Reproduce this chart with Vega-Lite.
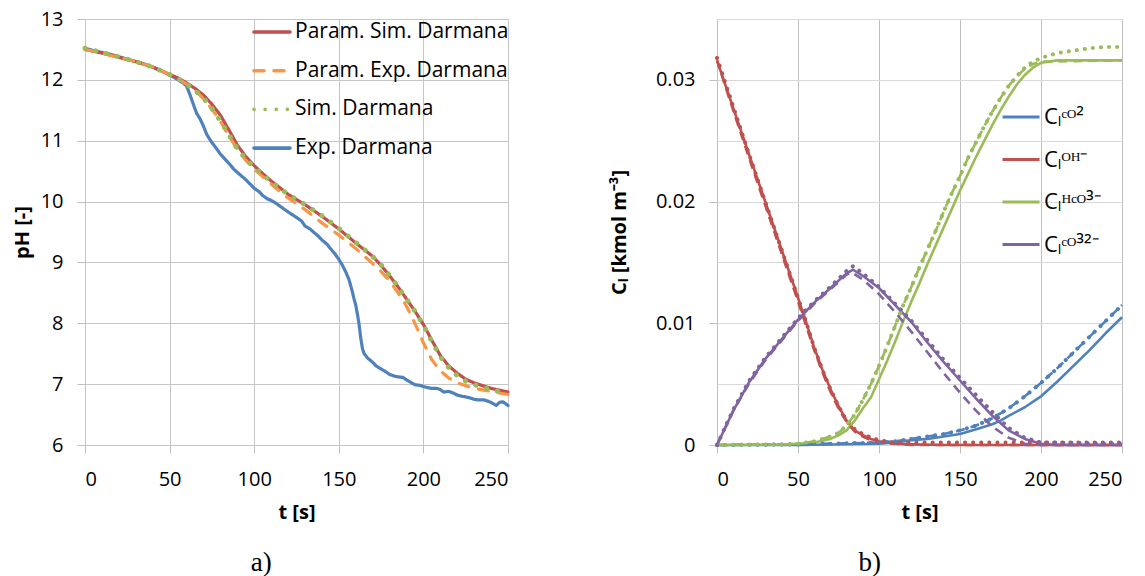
{
"$schema": "https://vega.github.io/schema/vega-lite/v6.json",
"background": "white",
"padding": {"left": 12, "top": 9, "right": 0, "bottom": 0},
"config": {
  "view": {"stroke": null},
  "font": "Open Sans",
  "axis": {"gridColor": "#c6c6c6", "tickColor": "#bfbfbf", "domain": false, "labelFont": "Open Sans", "labelFontSize": 20, "labelColor": "#000", "titleFont": "Open Sans", "titleFontSize": 20, "titleFontWeight": "bold", "titleColor": "#000", "tickSize": 8},
  "axisX": {"labelPadding": 16, "titlePadding": 13, "labelAngle": 0},
  "axisY": {"labelPadding": 14, "titlePadding": 8}
},
"datasets": {
"ph": [
{"t":0,"pH":12.52,"series":"Exp. Darmana"},{"t":5,"pH":12.48,"series":"Exp. Darmana"},{"t":10,"pH":12.45,"series":"Exp. Darmana"},{"t":15,"pH":12.42,"series":"Exp. Darmana"},{"t":20,"pH":12.38,"series":"Exp. Darmana"},{"t":25,"pH":12.34,"series":"Exp. Darmana"},{"t":30,"pH":12.3,"series":"Exp. Darmana"},{"t":35,"pH":12.26,"series":"Exp. Darmana"},{"t":40,"pH":12.21,"series":"Exp. Darmana"},{"t":45,"pH":12.15,"series":"Exp. Darmana"},{"t":50,"pH":12.08,"series":"Exp. Darmana"},{"t":55,"pH":12.0,"series":"Exp. Darmana"},{"t":58,"pH":11.95,"series":"Exp. Darmana"},{"t":60,"pH":11.9,"series":"Exp. Darmana"},{"t":62,"pH":11.76,"series":"Exp. Darmana"},{"t":64,"pH":11.6,"series":"Exp. Darmana"},{"t":66,"pH":11.45,"series":"Exp. Darmana"},{"t":68,"pH":11.36,"series":"Exp. Darmana"},{"t":70,"pH":11.24,"series":"Exp. Darmana"},{"t":72,"pH":11.1,"series":"Exp. Darmana"},{"t":75,"pH":10.97,"series":"Exp. Darmana"},{"t":78,"pH":10.86,"series":"Exp. Darmana"},{"t":80,"pH":10.78,"series":"Exp. Darmana"},{"t":85,"pH":10.63,"series":"Exp. Darmana"},{"t":88,"pH":10.53,"series":"Exp. Darmana"},{"t":90,"pH":10.48,"series":"Exp. Darmana"},{"t":95,"pH":10.36,"series":"Exp. Darmana"},{"t":100,"pH":10.22,"series":"Exp. Darmana"},{"t":103,"pH":10.16,"series":"Exp. Darmana"},{"t":105,"pH":10.1,"series":"Exp. Darmana"},{"t":108,"pH":10.04,"series":"Exp. Darmana"},{"t":110,"pH":10.02,"series":"Exp. Darmana"},{"t":113,"pH":9.97,"series":"Exp. Darmana"},{"t":115,"pH":9.93,"series":"Exp. Darmana"},{"t":120,"pH":9.83,"series":"Exp. Darmana"},{"t":125,"pH":9.74,"series":"Exp. Darmana"},{"t":128,"pH":9.68,"series":"Exp. Darmana"},{"t":130,"pH":9.6,"series":"Exp. Darmana"},{"t":133,"pH":9.55,"series":"Exp. Darmana"},{"t":135,"pH":9.5,"series":"Exp. Darmana"},{"t":138,"pH":9.43,"series":"Exp. Darmana"},{"t":140,"pH":9.37,"series":"Exp. Darmana"},{"t":143,"pH":9.3,"series":"Exp. Darmana"},{"t":145,"pH":9.23,"series":"Exp. Darmana"},{"t":148,"pH":9.13,"series":"Exp. Darmana"},{"t":150,"pH":9.05,"series":"Exp. Darmana"},{"t":152,"pH":8.96,"series":"Exp. Darmana"},{"t":154,"pH":8.85,"series":"Exp. Darmana"},{"t":156,"pH":8.72,"series":"Exp. Darmana"},{"t":158,"pH":8.52,"series":"Exp. Darmana"},{"t":159,"pH":8.4,"series":"Exp. Darmana"},{"t":160,"pH":8.3,"series":"Exp. Darmana"},{"t":161,"pH":8.15,"series":"Exp. Darmana"},{"t":162,"pH":7.98,"series":"Exp. Darmana"},{"t":163,"pH":7.75,"series":"Exp. Darmana"},{"t":164,"pH":7.58,"series":"Exp. Darmana"},{"t":165,"pH":7.5,"series":"Exp. Darmana"},{"t":167,"pH":7.43,"series":"Exp. Darmana"},{"t":170,"pH":7.36,"series":"Exp. Darmana"},{"t":172,"pH":7.3,"series":"Exp. Darmana"},{"t":175,"pH":7.25,"series":"Exp. Darmana"},{"t":178,"pH":7.2,"series":"Exp. Darmana"},{"t":180,"pH":7.16,"series":"Exp. Darmana"},{"t":183,"pH":7.13,"series":"Exp. Darmana"},{"t":185,"pH":7.12,"series":"Exp. Darmana"},{"t":188,"pH":7.11,"series":"Exp. Darmana"},{"t":190,"pH":7.07,"series":"Exp. Darmana"},{"t":193,"pH":7.02,"series":"Exp. Darmana"},{"t":195,"pH":6.99,"series":"Exp. Darmana"},{"t":198,"pH":6.98,"series":"Exp. Darmana"},{"t":200,"pH":6.96,"series":"Exp. Darmana"},{"t":203,"pH":6.94,"series":"Exp. Darmana"},{"t":205,"pH":6.93,"series":"Exp. Darmana"},{"t":208,"pH":6.93,"series":"Exp. Darmana"},{"t":210,"pH":6.91,"series":"Exp. Darmana"},{"t":212,"pH":6.87,"series":"Exp. Darmana"},{"t":215,"pH":6.88,"series":"Exp. Darmana"},{"t":218,"pH":6.85,"series":"Exp. Darmana"},{"t":220,"pH":6.82,"series":"Exp. Darmana"},{"t":223,"pH":6.8,"series":"Exp. Darmana"},{"t":225,"pH":6.79,"series":"Exp. Darmana"},{"t":228,"pH":6.77,"series":"Exp. Darmana"},{"t":230,"pH":6.75,"series":"Exp. Darmana"},{"t":233,"pH":6.74,"series":"Exp. Darmana"},{"t":236,"pH":6.74,"series":"Exp. Darmana"},{"t":240,"pH":6.7,"series":"Exp. Darmana"},{"t":243,"pH":6.65,"series":"Exp. Darmana"},{"t":245,"pH":6.7,"series":"Exp. Darmana"},{"t":247,"pH":6.71,"series":"Exp. Darmana"},{"t":250,"pH":6.65,"series":"Exp. Darmana"},
{"t":0,"pH":12.5,"series":"Param. Sim. Darmana"},{"t":10,"pH":12.44,"series":"Param. Sim. Darmana"},{"t":20,"pH":12.37,"series":"Param. Sim. Darmana"},{"t":30,"pH":12.3,"series":"Param. Sim. Darmana"},{"t":40,"pH":12.21,"series":"Param. Sim. Darmana"},{"t":50,"pH":12.09,"series":"Param. Sim. Darmana"},{"t":55,"pH":12.03,"series":"Param. Sim. Darmana"},{"t":60,"pH":11.95,"series":"Param. Sim. Darmana"},{"t":65,"pH":11.86,"series":"Param. Sim. Darmana"},{"t":70,"pH":11.75,"series":"Param. Sim. Darmana"},{"t":75,"pH":11.6,"series":"Param. Sim. Darmana"},{"t":80,"pH":11.42,"series":"Param. Sim. Darmana"},{"t":85,"pH":11.18,"series":"Param. Sim. Darmana"},{"t":90,"pH":10.93,"series":"Param. Sim. Darmana"},{"t":95,"pH":10.74,"series":"Param. Sim. Darmana"},{"t":100,"pH":10.59,"series":"Param. Sim. Darmana"},{"t":105,"pH":10.46,"series":"Param. Sim. Darmana"},{"t":110,"pH":10.34,"series":"Param. Sim. Darmana"},{"t":115,"pH":10.23,"series":"Param. Sim. Darmana"},{"t":120,"pH":10.12,"series":"Param. Sim. Darmana"},{"t":130,"pH":9.95,"series":"Param. Sim. Darmana"},{"t":140,"pH":9.76,"series":"Param. Sim. Darmana"},{"t":150,"pH":9.55,"series":"Param. Sim. Darmana"},{"t":160,"pH":9.32,"series":"Param. Sim. Darmana"},{"t":170,"pH":9.1,"series":"Param. Sim. Darmana"},{"t":175,"pH":8.95,"series":"Param. Sim. Darmana"},{"t":180,"pH":8.78,"series":"Param. Sim. Darmana"},{"t":185,"pH":8.6,"series":"Param. Sim. Darmana"},{"t":190,"pH":8.4,"series":"Param. Sim. Darmana"},{"t":195,"pH":8.2,"series":"Param. Sim. Darmana"},{"t":200,"pH":7.98,"series":"Param. Sim. Darmana"},{"t":205,"pH":7.72,"series":"Param. Sim. Darmana"},{"t":210,"pH":7.47,"series":"Param. Sim. Darmana"},{"t":215,"pH":7.3,"series":"Param. Sim. Darmana"},{"t":220,"pH":7.18,"series":"Param. Sim. Darmana"},{"t":225,"pH":7.08,"series":"Param. Sim. Darmana"},{"t":230,"pH":7.02,"series":"Param. Sim. Darmana"},{"t":240,"pH":6.93,"series":"Param. Sim. Darmana"},{"t":250,"pH":6.87,"series":"Param. Sim. Darmana"},
{"t":0,"pH":12.5,"series":"Param. Exp. Darmana"},{"t":10,"pH":12.44,"series":"Param. Exp. Darmana"},{"t":20,"pH":12.37,"series":"Param. Exp. Darmana"},{"t":30,"pH":12.3,"series":"Param. Exp. Darmana"},{"t":40,"pH":12.21,"series":"Param. Exp. Darmana"},{"t":50,"pH":12.09,"series":"Param. Exp. Darmana"},{"t":55,"pH":12.02,"series":"Param. Exp. Darmana"},{"t":60,"pH":11.93,"series":"Param. Exp. Darmana"},{"t":65,"pH":11.83,"series":"Param. Exp. Darmana"},{"t":70,"pH":11.69,"series":"Param. Exp. Darmana"},{"t":75,"pH":11.52,"series":"Param. Exp. Darmana"},{"t":80,"pH":11.32,"series":"Param. Exp. Darmana"},{"t":85,"pH":11.08,"series":"Param. Exp. Darmana"},{"t":90,"pH":10.86,"series":"Param. Exp. Darmana"},{"t":95,"pH":10.68,"series":"Param. Exp. Darmana"},{"t":100,"pH":10.53,"series":"Param. Exp. Darmana"},{"t":105,"pH":10.41,"series":"Param. Exp. Darmana"},{"t":110,"pH":10.29,"series":"Param. Exp. Darmana"},{"t":115,"pH":10.17,"series":"Param. Exp. Darmana"},{"t":120,"pH":10.06,"series":"Param. Exp. Darmana"},{"t":130,"pH":9.87,"series":"Param. Exp. Darmana"},{"t":140,"pH":9.65,"series":"Param. Exp. Darmana"},{"t":150,"pH":9.45,"series":"Param. Exp. Darmana"},{"t":160,"pH":9.23,"series":"Param. Exp. Darmana"},{"t":170,"pH":8.98,"series":"Param. Exp. Darmana"},{"t":175,"pH":8.85,"series":"Param. Exp. Darmana"},{"t":180,"pH":8.7,"series":"Param. Exp. Darmana"},{"t":185,"pH":8.5,"series":"Param. Exp. Darmana"},{"t":190,"pH":8.28,"series":"Param. Exp. Darmana"},{"t":195,"pH":8.0,"series":"Param. Exp. Darmana"},{"t":200,"pH":7.68,"series":"Param. Exp. Darmana"},{"t":205,"pH":7.4,"series":"Param. Exp. Darmana"},{"t":210,"pH":7.22,"series":"Param. Exp. Darmana"},{"t":215,"pH":7.1,"series":"Param. Exp. Darmana"},{"t":220,"pH":7.02,"series":"Param. Exp. Darmana"},{"t":230,"pH":6.93,"series":"Param. Exp. Darmana"},{"t":240,"pH":6.88,"series":"Param. Exp. Darmana"},{"t":250,"pH":6.83,"series":"Param. Exp. Darmana"},
{"t":0,"pH":12.52,"series":"Sim. Darmana"},{"t":10,"pH":12.45,"series":"Sim. Darmana"},{"t":20,"pH":12.38,"series":"Sim. Darmana"},{"t":30,"pH":12.3,"series":"Sim. Darmana"},{"t":40,"pH":12.21,"series":"Sim. Darmana"},{"t":50,"pH":12.09,"series":"Sim. Darmana"},{"t":55,"pH":12.02,"series":"Sim. Darmana"},{"t":60,"pH":11.93,"series":"Sim. Darmana"},{"t":65,"pH":11.83,"series":"Sim. Darmana"},{"t":70,"pH":11.7,"series":"Sim. Darmana"},{"t":75,"pH":11.53,"series":"Sim. Darmana"},{"t":80,"pH":11.33,"series":"Sim. Darmana"},{"t":85,"pH":11.1,"series":"Sim. Darmana"},{"t":90,"pH":10.87,"series":"Sim. Darmana"},{"t":95,"pH":10.7,"series":"Sim. Darmana"},{"t":100,"pH":10.56,"series":"Sim. Darmana"},{"t":105,"pH":10.44,"series":"Sim. Darmana"},{"t":110,"pH":10.33,"series":"Sim. Darmana"},{"t":115,"pH":10.22,"series":"Sim. Darmana"},{"t":120,"pH":10.12,"series":"Sim. Darmana"},{"t":130,"pH":9.95,"series":"Sim. Darmana"},{"t":140,"pH":9.77,"series":"Sim. Darmana"},{"t":150,"pH":9.56,"series":"Sim. Darmana"},{"t":160,"pH":9.33,"series":"Sim. Darmana"},{"t":170,"pH":9.1,"series":"Sim. Darmana"},{"t":175,"pH":8.96,"series":"Sim. Darmana"},{"t":180,"pH":8.79,"series":"Sim. Darmana"},{"t":185,"pH":8.6,"series":"Sim. Darmana"},{"t":190,"pH":8.4,"series":"Sim. Darmana"},{"t":195,"pH":8.2,"series":"Sim. Darmana"},{"t":200,"pH":7.97,"series":"Sim. Darmana"},{"t":205,"pH":7.7,"series":"Sim. Darmana"},{"t":210,"pH":7.45,"series":"Sim. Darmana"},{"t":215,"pH":7.27,"series":"Sim. Darmana"},{"t":220,"pH":7.14,"series":"Sim. Darmana"},{"t":225,"pH":7.05,"series":"Sim. Darmana"},{"t":230,"pH":6.99,"series":"Sim. Darmana"},{"t":240,"pH":6.91,"series":"Sim. Darmana"},{"t":250,"pH":6.85,"series":"Sim. Darmana"}
],
"cl": [
{"t":0,"C":0,"s":"CO2","v":"S"},{"t":50,"C":0,"s":"CO2","v":"S"},{"t":100,"C":0.0001,"s":"CO2","v":"S"},{"t":110,"C":0.0002,"s":"CO2","v":"S"},{"t":120,"C":0.0004,"s":"CO2","v":"S"},{"t":130,"C":0.0005,"s":"CO2","v":"S"},{"t":140,"C":0.0007,"s":"CO2","v":"S"},{"t":150,"C":0.0009,"s":"CO2","v":"S"},{"t":160,"C":0.0013,"s":"CO2","v":"S"},{"t":170,"C":0.0017,"s":"CO2","v":"S"},{"t":175,"C":0.002,"s":"CO2","v":"S"},{"t":180,"C":0.0024,"s":"CO2","v":"S"},{"t":190,"C":0.0031,"s":"CO2","v":"S"},{"t":200,"C":0.004,"s":"CO2","v":"S"},{"t":210,"C":0.0052,"s":"CO2","v":"S"},{"t":220,"C":0.0065,"s":"CO2","v":"S"},{"t":230,"C":0.0078,"s":"CO2","v":"S"},{"t":240,"C":0.0092,"s":"CO2","v":"S"},{"t":250,"C":0.0105,"s":"CO2","v":"S"},
{"t":0,"C":0.0316,"s":"OH","v":"S"},{"t":10,"C":0.0277,"s":"OH","v":"S"},{"t":20,"C":0.0238,"s":"OH","v":"S"},{"t":30,"C":0.0199,"s":"OH","v":"S"},{"t":40,"C":0.016,"s":"OH","v":"S"},{"t":50,"C":0.0121,"s":"OH","v":"S"},{"t":55,"C":0.0101,"s":"OH","v":"S"},{"t":60,"C":0.008,"s":"OH","v":"S"},{"t":65,"C":0.0062,"s":"OH","v":"S"},{"t":70,"C":0.0046,"s":"OH","v":"S"},{"t":75,"C":0.0032,"s":"OH","v":"S"},{"t":80,"C":0.002,"s":"OH","v":"S"},{"t":85,"C":0.0012,"s":"OH","v":"S"},{"t":90,"C":0.0008,"s":"OH","v":"S"},{"t":95,"C":0.0005,"s":"OH","v":"S"},{"t":100,"C":0.0003,"s":"OH","v":"S"},{"t":110,"C":0.0001,"s":"OH","v":"S"},{"t":120,"C":0.00005,"s":"OH","v":"S"},{"t":140,"C":0,"s":"OH","v":"S"},{"t":250,"C":0,"s":"OH","v":"S"},
{"t":0,"C":0,"s":"HCO3","v":"S"},{"t":40,"C":0.00003,"s":"HCO3","v":"S"},{"t":50,"C":0.0001,"s":"HCO3","v":"S"},{"t":60,"C":0.0002,"s":"HCO3","v":"S"},{"t":70,"C":0.0005,"s":"HCO3","v":"S"},{"t":75,"C":0.0008,"s":"HCO3","v":"S"},{"t":80,"C":0.0012,"s":"HCO3","v":"S"},{"t":85,"C":0.002,"s":"HCO3","v":"S"},{"t":90,"C":0.003,"s":"HCO3","v":"S"},{"t":95,"C":0.0039,"s":"HCO3","v":"S"},{"t":100,"C":0.0054,"s":"HCO3","v":"S"},{"t":105,"C":0.0069,"s":"HCO3","v":"S"},{"t":110,"C":0.0085,"s":"HCO3","v":"S"},{"t":115,"C":0.0102,"s":"HCO3","v":"S"},{"t":120,"C":0.0118,"s":"HCO3","v":"S"},{"t":125,"C":0.0133,"s":"HCO3","v":"S"},{"t":130,"C":0.0149,"s":"HCO3","v":"S"},{"t":135,"C":0.0164,"s":"HCO3","v":"S"},{"t":140,"C":0.0179,"s":"HCO3","v":"S"},{"t":145,"C":0.0194,"s":"HCO3","v":"S"},{"t":150,"C":0.0209,"s":"HCO3","v":"S"},{"t":155,"C":0.0223,"s":"HCO3","v":"S"},{"t":160,"C":0.0237,"s":"HCO3","v":"S"},{"t":165,"C":0.025,"s":"HCO3","v":"S"},{"t":170,"C":0.0263,"s":"HCO3","v":"S"},{"t":175,"C":0.0275,"s":"HCO3","v":"S"},{"t":180,"C":0.0286,"s":"HCO3","v":"S"},{"t":185,"C":0.0296,"s":"HCO3","v":"S"},{"t":190,"C":0.0304,"s":"HCO3","v":"S"},{"t":195,"C":0.031,"s":"HCO3","v":"S"},{"t":200,"C":0.0314,"s":"HCO3","v":"S"},{"t":210,"C":0.0316,"s":"HCO3","v":"S"},{"t":250,"C":0.0316,"s":"HCO3","v":"S"},
{"t":0,"C":0,"s":"CO3","v":"S"},{"t":5,"C":0.0014,"s":"CO3","v":"S"},{"t":10,"C":0.0028,"s":"CO3","v":"S"},{"t":20,"C":0.0052,"s":"CO3","v":"S"},{"t":30,"C":0.0071,"s":"CO3","v":"S"},{"t":40,"C":0.0087,"s":"CO3","v":"S"},{"t":50,"C":0.0103,"s":"CO3","v":"S"},{"t":60,"C":0.0117,"s":"CO3","v":"S"},{"t":70,"C":0.0129,"s":"CO3","v":"S"},{"t":80,"C":0.0141,"s":"CO3","v":"S"},{"t":84,"C":0.0144,"s":"CO3","v":"S"},{"t":90,"C":0.0139,"s":"CO3","v":"S"},{"t":100,"C":0.0129,"s":"CO3","v":"S"},{"t":110,"C":0.0115,"s":"CO3","v":"S"},{"t":120,"C":0.0101,"s":"CO3","v":"S"},{"t":130,"C":0.0084,"s":"CO3","v":"S"},{"t":140,"C":0.0068,"s":"CO3","v":"S"},{"t":150,"C":0.0053,"s":"CO3","v":"S"},{"t":160,"C":0.0038,"s":"CO3","v":"S"},{"t":170,"C":0.0024,"s":"CO3","v":"S"},{"t":180,"C":0.0012,"s":"CO3","v":"S"},{"t":190,"C":0.0005,"s":"CO3","v":"S"},{"t":200,"C":0.0001,"s":"CO3","v":"S"},{"t":210,"C":0,"s":"CO3","v":"S"},{"t":250,"C":0,"s":"CO3","v":"S"},
{"t":0,"C":0,"s":"CO2","v":"E"},{"t":50,"C":0.00005,"s":"CO2","v":"E"},{"t":100,"C":0.0002,"s":"CO2","v":"E"},{"t":110,"C":0.0003,"s":"CO2","v":"E"},{"t":120,"C":0.0005,"s":"CO2","v":"E"},{"t":130,"C":0.0007,"s":"CO2","v":"E"},{"t":140,"C":0.0009,"s":"CO2","v":"E"},{"t":150,"C":0.0012,"s":"CO2","v":"E"},{"t":160,"C":0.0016,"s":"CO2","v":"E"},{"t":170,"C":0.0022,"s":"CO2","v":"E"},{"t":175,"C":0.0026,"s":"CO2","v":"E"},{"t":180,"C":0.003,"s":"CO2","v":"E"},{"t":190,"C":0.004,"s":"CO2","v":"E"},{"t":200,"C":0.0051,"s":"CO2","v":"E"},{"t":210,"C":0.0063,"s":"CO2","v":"E"},{"t":220,"C":0.0076,"s":"CO2","v":"E"},{"t":230,"C":0.0089,"s":"CO2","v":"E"},{"t":240,"C":0.0102,"s":"CO2","v":"E"},{"t":250,"C":0.0115,"s":"CO2","v":"E"},
{"t":0,"C":0.0316,"s":"OH","v":"E"},{"t":10,"C":0.0275,"s":"OH","v":"E"},{"t":20,"C":0.0235,"s":"OH","v":"E"},{"t":30,"C":0.0196,"s":"OH","v":"E"},{"t":40,"C":0.0157,"s":"OH","v":"E"},{"t":50,"C":0.0118,"s":"OH","v":"E"},{"t":55,"C":0.0098,"s":"OH","v":"E"},{"t":60,"C":0.0078,"s":"OH","v":"E"},{"t":65,"C":0.006,"s":"OH","v":"E"},{"t":70,"C":0.0044,"s":"OH","v":"E"},{"t":75,"C":0.003,"s":"OH","v":"E"},{"t":80,"C":0.0019,"s":"OH","v":"E"},{"t":85,"C":0.0011,"s":"OH","v":"E"},{"t":90,"C":0.0007,"s":"OH","v":"E"},{"t":95,"C":0.0004,"s":"OH","v":"E"},{"t":100,"C":0.0002,"s":"OH","v":"E"},{"t":110,"C":0.0001,"s":"OH","v":"E"},{"t":120,"C":0,"s":"OH","v":"E"},{"t":250,"C":0,"s":"OH","v":"E"},
{"t":0,"C":0,"s":"HCO3","v":"E"},{"t":40,"C":0.00005,"s":"HCO3","v":"E"},{"t":50,"C":0.0001,"s":"HCO3","v":"E"},{"t":60,"C":0.0003,"s":"HCO3","v":"E"},{"t":70,"C":0.0007,"s":"HCO3","v":"E"},{"t":75,"C":0.001,"s":"HCO3","v":"E"},{"t":80,"C":0.0016,"s":"HCO3","v":"E"},{"t":85,"C":0.0025,"s":"HCO3","v":"E"},{"t":90,"C":0.0037,"s":"HCO3","v":"E"},{"t":95,"C":0.005,"s":"HCO3","v":"E"},{"t":100,"C":0.0065,"s":"HCO3","v":"E"},{"t":105,"C":0.0081,"s":"HCO3","v":"E"},{"t":110,"C":0.0098,"s":"HCO3","v":"E"},{"t":115,"C":0.0115,"s":"HCO3","v":"E"},{"t":120,"C":0.013,"s":"HCO3","v":"E"},{"t":125,"C":0.0146,"s":"HCO3","v":"E"},{"t":130,"C":0.0161,"s":"HCO3","v":"E"},{"t":135,"C":0.0176,"s":"HCO3","v":"E"},{"t":140,"C":0.0192,"s":"HCO3","v":"E"},{"t":145,"C":0.0207,"s":"HCO3","v":"E"},{"t":150,"C":0.0221,"s":"HCO3","v":"E"},{"t":155,"C":0.0236,"s":"HCO3","v":"E"},{"t":160,"C":0.0249,"s":"HCO3","v":"E"},{"t":165,"C":0.0262,"s":"HCO3","v":"E"},{"t":170,"C":0.0274,"s":"HCO3","v":"E"},{"t":175,"C":0.0285,"s":"HCO3","v":"E"},{"t":180,"C":0.0295,"s":"HCO3","v":"E"},{"t":185,"C":0.0303,"s":"HCO3","v":"E"},{"t":190,"C":0.0309,"s":"HCO3","v":"E"},{"t":195,"C":0.0313,"s":"HCO3","v":"E"},{"t":200,"C":0.0315,"s":"HCO3","v":"E"},{"t":250,"C":0.0316,"s":"HCO3","v":"E"},
{"t":0,"C":0,"s":"CO3","v":"E"},{"t":10,"C":0.0028,"s":"CO3","v":"E"},{"t":20,"C":0.0051,"s":"CO3","v":"E"},{"t":30,"C":0.007,"s":"CO3","v":"E"},{"t":40,"C":0.0086,"s":"CO3","v":"E"},{"t":50,"C":0.0102,"s":"CO3","v":"E"},{"t":60,"C":0.0116,"s":"CO3","v":"E"},{"t":70,"C":0.0128,"s":"CO3","v":"E"},{"t":80,"C":0.014,"s":"CO3","v":"E"},{"t":83,"C":0.0142,"s":"CO3","v":"E"},{"t":90,"C":0.0136,"s":"CO3","v":"E"},{"t":100,"C":0.0124,"s":"CO3","v":"E"},{"t":110,"C":0.0109,"s":"CO3","v":"E"},{"t":120,"C":0.0093,"s":"CO3","v":"E"},{"t":130,"C":0.0076,"s":"CO3","v":"E"},{"t":140,"C":0.0059,"s":"CO3","v":"E"},{"t":150,"C":0.0043,"s":"CO3","v":"E"},{"t":160,"C":0.0028,"s":"CO3","v":"E"},{"t":170,"C":0.0015,"s":"CO3","v":"E"},{"t":180,"C":0.0006,"s":"CO3","v":"E"},{"t":190,"C":0.0001,"s":"CO3","v":"E"},{"t":200,"C":0,"s":"CO3","v":"E"},{"t":250,"C":0,"s":"CO3","v":"E"},
{"t":0,"C":0,"s":"CO2","v":"D"},{"t":50,"C":0.00005,"s":"CO2","v":"D"},{"t":100,"C":0.0002,"s":"CO2","v":"D"},{"t":110,"C":0.0003,"s":"CO2","v":"D"},{"t":120,"C":0.0005,"s":"CO2","v":"D"},{"t":130,"C":0.0007,"s":"CO2","v":"D"},{"t":140,"C":0.0009,"s":"CO2","v":"D"},{"t":150,"C":0.0012,"s":"CO2","v":"D"},{"t":160,"C":0.0016,"s":"CO2","v":"D"},{"t":170,"C":0.0022,"s":"CO2","v":"D"},{"t":175,"C":0.0026,"s":"CO2","v":"D"},{"t":180,"C":0.003,"s":"CO2","v":"D"},{"t":190,"C":0.004,"s":"CO2","v":"D"},{"t":200,"C":0.0051,"s":"CO2","v":"D"},{"t":210,"C":0.0063,"s":"CO2","v":"D"},{"t":220,"C":0.0076,"s":"CO2","v":"D"},{"t":230,"C":0.0089,"s":"CO2","v":"D"},{"t":240,"C":0.0102,"s":"CO2","v":"D"},{"t":250,"C":0.0115,"s":"CO2","v":"D"},
{"t":0,"C":0.0318,"s":"OH","v":"D"},{"t":10,"C":0.0278,"s":"OH","v":"D"},{"t":20,"C":0.0238,"s":"OH","v":"D"},{"t":30,"C":0.0199,"s":"OH","v":"D"},{"t":40,"C":0.016,"s":"OH","v":"D"},{"t":50,"C":0.0121,"s":"OH","v":"D"},{"t":55,"C":0.0101,"s":"OH","v":"D"},{"t":60,"C":0.008,"s":"OH","v":"D"},{"t":65,"C":0.0062,"s":"OH","v":"D"},{"t":70,"C":0.0046,"s":"OH","v":"D"},{"t":75,"C":0.0032,"s":"OH","v":"D"},{"t":80,"C":0.002,"s":"OH","v":"D"},{"t":85,"C":0.0013,"s":"OH","v":"D"},{"t":90,"C":0.0009,"s":"OH","v":"D"},{"t":95,"C":0.0006,"s":"OH","v":"D"},{"t":100,"C":0.0004,"s":"OH","v":"D"},{"t":110,"C":0.0002,"s":"OH","v":"D"},{"t":150,"C":0.0002,"s":"OH","v":"D"},{"t":200,"C":0.0002,"s":"OH","v":"D"},{"t":250,"C":0.0002,"s":"OH","v":"D"},
{"t":0,"C":0,"s":"HCO3","v":"D"},{"t":40,"C":0.00005,"s":"HCO3","v":"D"},{"t":50,"C":0.0001,"s":"HCO3","v":"D"},{"t":60,"C":0.0003,"s":"HCO3","v":"D"},{"t":70,"C":0.0007,"s":"HCO3","v":"D"},{"t":75,"C":0.001,"s":"HCO3","v":"D"},{"t":80,"C":0.0016,"s":"HCO3","v":"D"},{"t":85,"C":0.0025,"s":"HCO3","v":"D"},{"t":90,"C":0.0037,"s":"HCO3","v":"D"},{"t":95,"C":0.005,"s":"HCO3","v":"D"},{"t":100,"C":0.0065,"s":"HCO3","v":"D"},{"t":105,"C":0.0081,"s":"HCO3","v":"D"},{"t":110,"C":0.0098,"s":"HCO3","v":"D"},{"t":115,"C":0.0115,"s":"HCO3","v":"D"},{"t":120,"C":0.013,"s":"HCO3","v":"D"},{"t":125,"C":0.0146,"s":"HCO3","v":"D"},{"t":130,"C":0.0161,"s":"HCO3","v":"D"},{"t":135,"C":0.0176,"s":"HCO3","v":"D"},{"t":140,"C":0.0192,"s":"HCO3","v":"D"},{"t":145,"C":0.0207,"s":"HCO3","v":"D"},{"t":150,"C":0.0221,"s":"HCO3","v":"D"},{"t":155,"C":0.0236,"s":"HCO3","v":"D"},{"t":160,"C":0.0249,"s":"HCO3","v":"D"},{"t":165,"C":0.0262,"s":"HCO3","v":"D"},{"t":170,"C":0.0274,"s":"HCO3","v":"D"},{"t":175,"C":0.0285,"s":"HCO3","v":"D"},{"t":180,"C":0.0295,"s":"HCO3","v":"D"},{"t":185,"C":0.0303,"s":"HCO3","v":"D"},{"t":190,"C":0.031,"s":"HCO3","v":"D"},{"t":195,"C":0.0315,"s":"HCO3","v":"D"},{"t":200,"C":0.0318,"s":"HCO3","v":"D"},{"t":210,"C":0.0322,"s":"HCO3","v":"D"},{"t":220,"C":0.0324,"s":"HCO3","v":"D"},{"t":230,"C":0.0326,"s":"HCO3","v":"D"},{"t":240,"C":0.0327,"s":"HCO3","v":"D"},{"t":250,"C":0.0327,"s":"HCO3","v":"D"},
{"t":0,"C":0,"s":"CO3","v":"D"},{"t":10,"C":0.0029,"s":"CO3","v":"D"},{"t":20,"C":0.0053,"s":"CO3","v":"D"},{"t":30,"C":0.0072,"s":"CO3","v":"D"},{"t":40,"C":0.0088,"s":"CO3","v":"D"},{"t":50,"C":0.0104,"s":"CO3","v":"D"},{"t":60,"C":0.0118,"s":"CO3","v":"D"},{"t":70,"C":0.013,"s":"CO3","v":"D"},{"t":80,"C":0.0143,"s":"CO3","v":"D"},{"t":84,"C":0.0147,"s":"CO3","v":"D"},{"t":90,"C":0.0141,"s":"CO3","v":"D"},{"t":100,"C":0.013,"s":"CO3","v":"D"},{"t":110,"C":0.0116,"s":"CO3","v":"D"},{"t":120,"C":0.0102,"s":"CO3","v":"D"},{"t":130,"C":0.0086,"s":"CO3","v":"D"},{"t":140,"C":0.007,"s":"CO3","v":"D"},{"t":150,"C":0.0055,"s":"CO3","v":"D"},{"t":160,"C":0.0041,"s":"CO3","v":"D"},{"t":170,"C":0.0027,"s":"CO3","v":"D"},{"t":180,"C":0.0014,"s":"CO3","v":"D"},{"t":190,"C":0.0006,"s":"CO3","v":"D"},{"t":200,"C":0.0002,"s":"CO3","v":"D"},{"t":210,"C":0.0002,"s":"CO3","v":"D"},{"t":250,"C":0.0001,"s":"CO3","v":"D"}
]
},
"hconcat": [
{
  "width": 423, "height": 426,
  "title": {"text": "a)", "orient": "bottom", "frame": "bounds", "anchor": "middle", "font": "Liberation Serif", "fontSize": 27, "fontWeight": "normal", "color": "#000", "offset": 28},
  "data": {"name": "ph"},
  "encoding": {
    "x": {"field": "t", "type": "quantitative", "scale": {"domain": [0, 250], "nice": false}, "axis": {"values": [0, 50, 100, 150, 200, 250], "title": "t [s]"}},
    "y": {"field": "pH", "type": "quantitative", "scale": {"domain": [6, 13], "zero": false, "nice": false}, "axis": {"values": [6, 7, 8, 9, 10, 11, 12, 13], "title": "pH [-]"}},
    "color": {"field": "series", "type": "nominal",
      "scale": {"domain": ["Param. Sim. Darmana", "Param. Exp. Darmana", "Sim. Darmana", "Exp. Darmana"], "range": ["#C0504D", "#F79646", "#9BBB59", "#4F81BD"]},
      "legend": {"orient": "none", "legendX": 167, "legendY": -7, "title": null, "symbolType": "stroke", "symbolSize": 1296, "symbolStrokeWidth": 3.6, "labelFont": "Open Sans", "labelFontSize": 21, "labelColor": "#000", "rowPadding": 8.7, "labelOffset": 3, "labelLimit": 400,
        "encode": {"symbols": {"update": {"strokeCap": {"value": "round"}}}}}}
  },
  "layer": [
    {"transform": [{"filter": "datum.series != 'Sim. Darmana'"}],
     "mark": {"type": "line", "strokeWidth": 3.2, "strokeCap": "round", "strokeJoin": "round"},
     "encoding": {
       "strokeDash": {"field": "series", "type": "nominal",
         "scale": {"domain": ["Param. Sim. Darmana", "Param. Exp. Darmana", "Sim. Darmana", "Exp. Darmana"], "range": [[1, 0], [10, 10], [0.1, 11], [1, 0]]},
         "legend": {"orient": "none", "legendX": 167, "legendY": -7, "title": null, "symbolType": "stroke", "symbolSize": 1296, "symbolStrokeWidth": 3.6, "labelFont": "Open Sans", "labelFontSize": 21, "labelColor": "#000", "rowPadding": 8.7, "labelOffset": 3, "labelLimit": 400,
           "encode": {"symbols": {"update": {"strokeCap": {"value": "round"}}}}}}
     }},
    {"transform": [{"filter": "datum.series == 'Sim. Darmana'"}],
     "mark": {"type": "line", "strokeWidth": 5, "strokeCap": "round", "strokeJoin": "round", "strokeDash": [0.1, 11]}}
  ]
},
{
  "width": 405, "height": 426,
  "title": {"text": "b)", "orient": "bottom", "frame": "bounds", "anchor": "middle", "font": "Liberation Serif", "fontSize": 27, "fontWeight": "normal", "color": "#000", "offset": 28},
  "data": {"name": "cl"},
  "encoding": {
    "x": {"field": "t", "type": "quantitative", "scale": {"domain": [0, 250], "nice": false}, "axis": {"values": [0, 50, 100, 150, 200, 250], "title": "t [s]", "gridColor": "#bfbfbf"}},
    "y": {"field": "C", "type": "quantitative", "scale": {"domain": [0, 0.035], "nice": false}, "axis": {"values": [0, 0.005, 0.01, 0.015, 0.02, 0.025, 0.03, 0.035], "title": "Cₗ [kmol m⁻³]", "titlePadding": 26, "gridColor": "#d9d9d9", "labelExpr": "length(format(datum.value, '.3~f')) <= 4 ? format(datum.value, '.2~f') : ''", "tickOpacity": {"condition": {"test": "length(format(datum.value, '.3~f')) > 4", "value": 0}, "value": 1}}},
    "color": {"field": "s", "type": "nominal",
      "scale": {"domain": ["CO2", "OH", "HCO3", "CO3"], "range": ["#4F81BD", "#C0504D", "#9BBB59", "#8064A2"]},
      "legend": {"orient": "none", "legendX": 284, "legendY": 78, "title": null, "symbolType": "stroke", "symbolSize": 1369, "symbolStrokeWidth": 3, "labelFont": "Open Sans", "labelFontSize": 22, "labelColor": "#000", "rowPadding": 11.5, "labelOffset": 3, "labelLimit": 400,
        "labelExpr": "datum.label == 'CO2' ? 'Cₗᶜᴼ²' : datum.label == 'OH' ? 'Cₗᴼᴴ⁻' : datum.label == 'HCO3' ? 'Cₗᴴᶜᴼ³⁻' : 'Cₗᶜᴼ³²⁻'"}}
  },
  "layer": [
    {"transform": [{"filter": "datum.v == 'S'"}], "mark": {"type": "line", "strokeWidth": 2.6, "strokeJoin": "round"}},
    {"transform": [{"filter": "datum.v == 'E'"}], "mark": {"type": "line", "strokeWidth": 2.6, "strokeDash": [9, 6]}},
    {"transform": [{"filter": "datum.v == 'D'"}], "mark": {"type": "line", "strokeWidth": 4, "strokeCap": "round", "strokeDash": [0.1, 8]}}
  ]
}
],
"spacing": 98,
"resolve": {"scale": {"x": "independent", "y": "independent", "color": "independent", "strokeDash": "independent"}, "legend": {"color": "independent"}}
}
